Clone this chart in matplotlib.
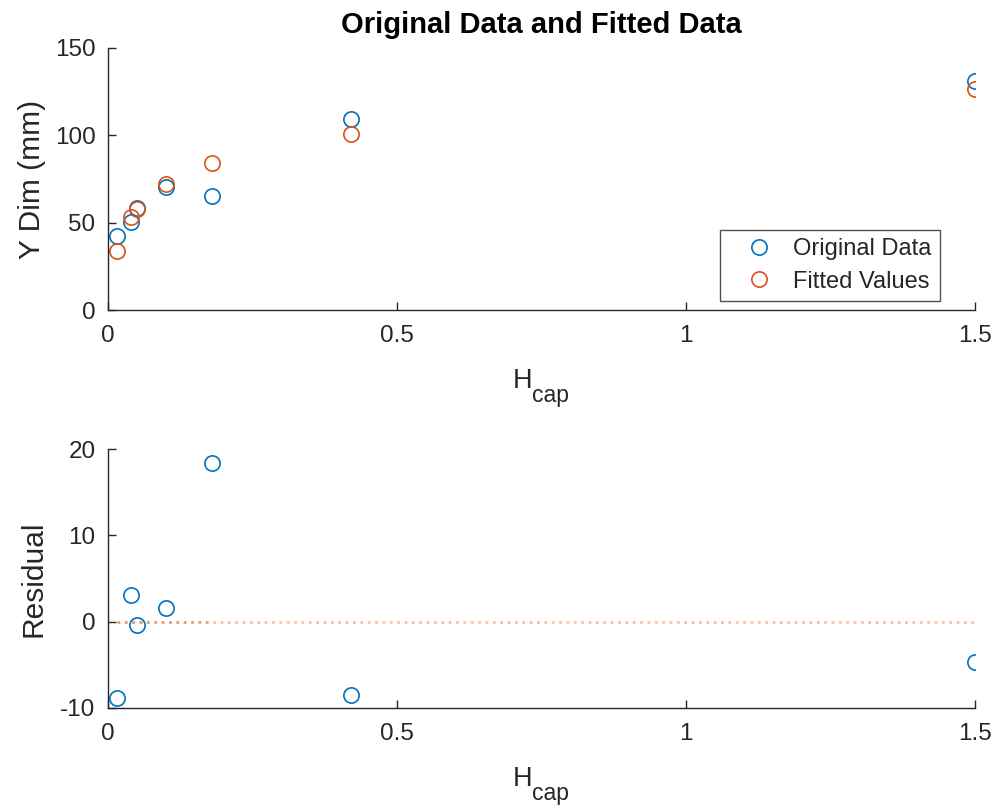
import numpy as np
import matplotlib.pyplot as plt
import matplotlib.transforms as mtransforms

plt.rcParams['font.family'] = ['Liberation Sans', 'DejaVu Sans']
plt.rcParams['axes.unicode_minus'] = False

# data
h_cap = [0.015, 0.04, 0.05, 0.1, 0.18, 0.42, 1.5]
y_orig = [42.5, 50.5, 58.5, 70.3, 65.5, 109.5, 131.0]
y_fit = [33.6, 53.3, 58.1, 71.9, 83.9, 101.0, 126.4]
resid = [-8.9, 3.1, -0.4, 1.6, 18.4, -8.5, -4.7]

blue = '#0072BD'
orange = '#D95319'
dark = '#262626'

fig = plt.figure(figsize=(9.95, 8.08), dpi=100)
ax1 = fig.add_axes([0.1085, 0.6163, 0.8714, 0.3243])
ax2 = fig.add_axes([0.1085, 0.1238, 0.8714, 0.3205])


def style(ax):
    for s in ['top', 'right']:
        ax.spines[s].set_visible(False)
    for s in ['left', 'bottom']:
        ax.spines[s].set_color(dark)
        ax.spines[s].set_linewidth(1.0)
    ax.tick_params(direction='in', length=6, width=1.0, colors=dark, labelsize=17.5)
    ax.tick_params(axis='x', pad=11)
    ax.tick_params(axis='y', pad=9)
    ax.set_xlim(0, 1.5)
    ax.set_xticks([0, 0.5, 1, 1.5])
    ax.set_xticklabels(['0', '0.5', '1', '1.5'])
    # x label "H" with subscript "cap", built from two texts
    tr_h = mtransforms.offset_copy(ax.transAxes, fig=fig, y=-78, units='dots')
    tr_c = mtransforms.offset_copy(ax.transAxes, fig=fig, y=-92, units='dots')
    ax.text(0.4896, 0, 'H', transform=tr_h, ha='right', va='baseline',
            fontsize=19.5, color=dark)
    ax.text(0.4896, 0, 'cap', transform=tr_c, ha='left', va='baseline',
            fontsize=16.5, color=dark)


mk = dict(ls='none', marker='o', ms=11, mfc='none', mew=1.2)

# top panel
ax1.plot(h_cap, y_orig, mec=blue, label='Original Data', **mk)
ax1.plot(h_cap, y_fit, mec=orange, label='Fitted Values', **mk)
style(ax1)
ax1.set_ylim(0, 150)
ax1.set_yticks([0, 50, 100, 150])
ax1.set_ylabel('Y Dim (mm)', fontsize=21.5, color=dark, labelpad=6)
ax1.set_title('Original Data and Fitted Data', fontsize=21, fontweight='bold',
              color='black', pad=11)
leg = ax1.legend(loc='lower right', bbox_to_anchor=(0.9596, 0.0344), fontsize=17,
                 frameon=True, fancybox=False, borderpad=0.35, handlelength=2.6,
                 handletextpad=0.15, labelspacing=0.45, borderaxespad=0)
leg.get_frame().set_edgecolor(dark)
leg.get_frame().set_linewidth(1.0)
for t in leg.get_texts():
    t.set_color(dark)

# bottom panel
zero = np.zeros(len(h_cap))
ax2.plot([h_cap[0], h_cap[-1]], zero[[0, -1]], ls=':', lw=2, color=orange, alpha=0.35)
ax2.plot([h_cap[0], h_cap[4]], zero[[0, 4]], ls=':', lw=2, color=orange, alpha=0.35)
ax2.plot(h_cap, resid, mec=blue, **mk)
style(ax2)
ax2.set_ylim(-10, 20)
ax2.set_yticks([-10, 0, 10, 20])
ax2.set_ylabel('Residual', fontsize=21.5, color=dark, labelpad=9)

plt.savefig('out.png', dpi=100)
